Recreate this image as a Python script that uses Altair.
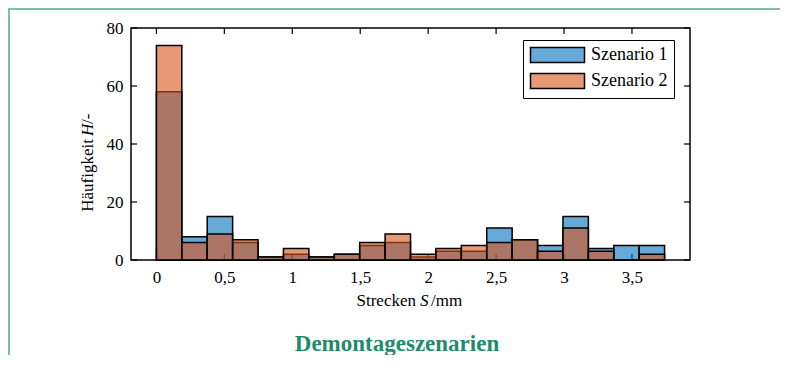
import altair as alt
import pandas as pd

# ---- data ----
BIN_WIDTH = 0.187
series_names = ["Szenario 1", "Szenario 2"]
series_colors = ["#0072BD", "#D95319"]          # drawn at 60 % fill opacity
legend_colors = ["#66AAD7", "#E89875"]          # same colours as seen on white
scenario_1 = [58, 8, 15, 6, 1, 2, 1, 2, 5, 6, 1, 3, 3, 11, 7, 5, 15, 4, 5, 5]
scenario_2 = [74, 6, 9, 7, 1, 4, 1, 2, 6, 9, 2, 4, 5, 6, 7, 3, 11, 3, 0, 2]
x_ticks = [0, 0.5, 1, 1.5, 2, 2.5, 3, 3.5]
y_ticks = [0, 20, 40, 60, 80]
x_domain = [-0.187, 3.927]
y_domain = [0, 80]
chart_title = "Demontageszenarien"
x_title_parts = ["Strecken ", "S", "/mm"]
y_title_parts = ["Häufigkeit ", "H", "/-"]

FONT = "Liberation Serif"
W, H = 559, 232

rows = []
for k, (name, counts) in enumerate(zip(series_names, [scenario_1, scenario_2])):
    for i, c in enumerate(counts):
        rows.append({"series": name, "x0": round(i * BIN_WIDTH, 4),
                     "x1": round((i + 1) * BIN_WIDTH, 4), "count": c, "k": k})
df = pd.DataFrame(rows)

xs = alt.Scale(domain=x_domain, nice=False, zero=False)
ys = alt.Scale(domain=y_domain, nice=False)

x_axis = alt.Axis(
    values=x_ticks, title=None, grid=False, domain=False, ticks=False, tickSize=0,
    labelPadding=9,
    labelExpr="replace(format(datum.value, '~g'), '.', ',')")
y_axis = alt.Axis(
    values=y_ticks, title=None, grid=False, domain=False, ticks=False, tickSize=0,
    labelPadding=8)

one = pd.DataFrame({"a": [0]})
frame = alt.Chart(one).mark_rect(
    fill="transparent", stroke="#7cc0ab", strokeWidth=2
).encode(x=alt.value(-122), x2=alt.value(W + 95), y=alt.value(-19), y2=alt.value(H + 200))

tick_y = pd.DataFrame({"v": y_ticks})
tick_x = pd.DataFrame({"v": x_ticks})
tk = dict(color="black", strokeWidth=1.2)
left_ticks = alt.Chart(tick_y).mark_rule(**tk).encode(
    y=alt.Y("v:Q", scale=ys, axis=y_axis), x=alt.value(0), x2=alt.value(6))
right_ticks = alt.Chart(tick_y).mark_rule(**tk).encode(
    y=alt.Y("v:Q", scale=ys, axis=y_axis), x=alt.value(W - 6), x2=alt.value(W))
bottom_ticks = alt.Chart(tick_x).mark_rule(**tk).encode(
    x=alt.X("v:Q", scale=xs, axis=x_axis), y=alt.value(H - 6), y2=alt.value(H))
top_ticks = alt.Chart(tick_x).mark_rule(**tk).encode(
    x=alt.X("v:Q", scale=xs, axis=x_axis), y=alt.value(0), y2=alt.value(6))

bars = alt.Chart(df).mark_bar(
    stroke="black", strokeWidth=1.5, fillOpacity=0.6, strokeOpacity=1
).encode(
    x=alt.X("x0:Q", scale=xs, axis=x_axis),
    x2="x1:Q",
    y=alt.Y("count:Q", scale=ys, stack=None, axis=y_axis),
    y2=alt.datum(0),
    color=alt.Color("series:N", scale=alt.Scale(domain=series_names, range=series_colors),
                    legend=None),
    order=alt.Order("k:Q"),
)

# legend (library legend, colours as they appear at 60 % opacity on white)
legend_layer = alt.Chart(pd.DataFrame({"series": series_names})).mark_square(
    opacity=0
).encode(
    x=alt.value(0), y=alt.value(0),
    color=alt.Color("series:N", scale=alt.Scale(domain=series_names, range=legend_colors),
                    legend=alt.Legend(
                        title=None, orient="none", legendX=392, legendY=12,
                        padding=6, rowPadding=4, strokeColor="black", fillColor="white",
                        symbolType="M-1,-1H6.2V1H-1Z", symbolSize=225, symbolOpacity=1,
                        symbolStrokeColor="black", symbolStrokeWidth=1.5,
                        labelOffset=44, labelFont=FONT, labelFontSize=18,
                        labelColor="black")),
)


def text_piece(txt, x, y, align, italic=False, angle=0):
    return alt.Chart(one).mark_text(
        text=txt, font=FONT, fontSize=17, color="black", align=align,
        baseline="middle", angle=angle, fontStyle="italic" if italic else "normal"
    ).encode(x=alt.value(x), y=alt.value(y))


# axis titles with italic variable symbols
x_t = [text_piece(x_title_parts[0], 285, 273, "right"),
       text_piece(x_title_parts[1], 289, 273, "left", italic=True),
       text_piece(x_title_parts[2], 300, 273, "left")]
y_t = [text_piece(y_title_parts[0], -43, 111, "right", angle=270),
       text_piece(y_title_parts[1], -43, 108, "left", italic=True, angle=270),
       text_piece(y_title_parts[2], -43, 96, "left", angle=270)]

title = alt.Chart(pd.DataFrame({"t": [chart_title]})).mark_text(
    font=FONT, fontSize=23, fontWeight="bold", color="#1f8a6c", baseline="middle", align="center"
).encode(text="t:N", x=alt.value(266), y=alt.value(316))

chart = alt.layer(
    frame, left_ticks, right_ticks, bottom_ticks, top_ticks, bars, legend_layer,
    *x_t, *y_t, title
).resolve_scale(
    color="independent"
).properties(
    width=W, height=H,
    padding={"left": 123, "top": 20, "right": 90, "bottom": 95},
    autosize=alt.AutoSizeParams(type="none"),
).configure_view(
    stroke="black", strokeWidth=1.5
).configure_axis(
    labelFont=FONT, labelFontSize=17, labelColor="black",
)

chart.save("out.html", embed_options={"renderer": "svg", "actions": False})
